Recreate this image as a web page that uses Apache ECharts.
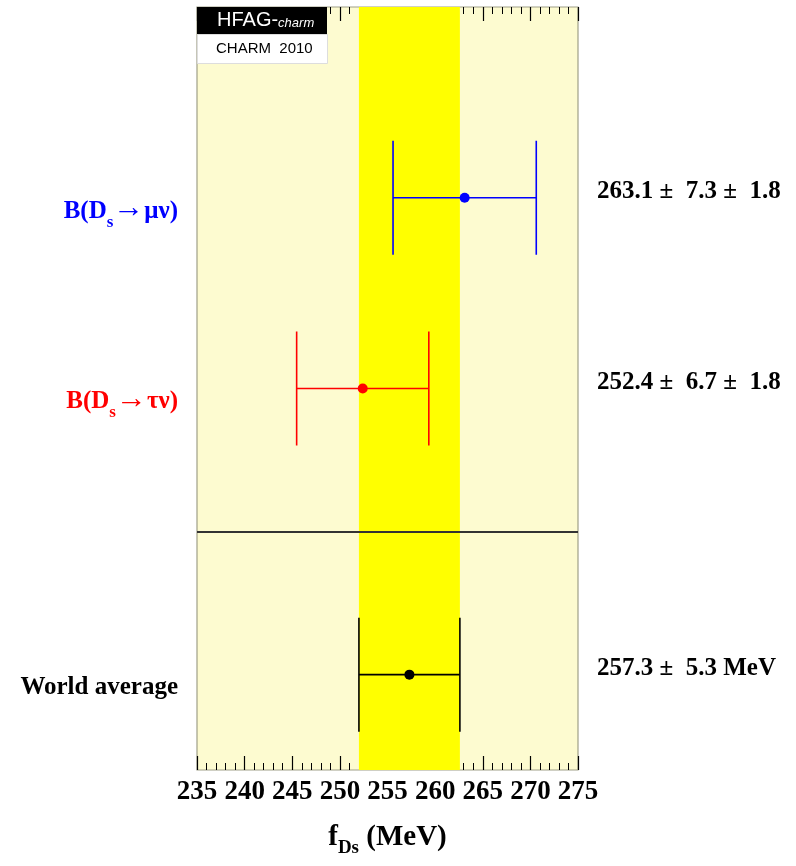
<!DOCTYPE html>
<html><head><meta charset="utf-8">
<script src="https://cdn.jsdelivr.net/npm/echarts@6/dist/echarts.min.js"></script>
<style>html,body{margin:0;padding:0;background:#fff}#c{width:796px;height:866px}</style>
</head><body><div id="c"></div>
<script>
// ---- data ----
const measNames = ['mu', 'tau', 'avg'];
const measLabelMain = ['B(D', 'B(D', 'World average'];
const measLabelSub = ['s', 's', ''];
const measLabelArrow = ['\u2192', '\u2192', ''];
const measLabelTail = ['\u03bc\u03bd)', '\u03c4\u03bd)', ''];
const measCenter = [263.1, 252.4, 257.3];
const measStat = [7.3, 6.7, 5.3];
const measSyst = [1.8, 1.8, 0];
const measRow = [3, 2, 0.5];
const measText = ['263.1 \u00b1  7.3 \u00b1  1.8', '252.4 \u00b1  6.7 \u00b1  1.8', '257.3 \u00b1  5.3 MeV'];
const measColor = ['#0000ff', '#ff0000', '#000000'];
const separatorRow = 1.25;
const xMin = 235, xMax = 275, xStep = 5;

const totErr = measStat.map((s, i) => Math.sqrt(s * s + measSyst[i] * measSyst[i]));
const avgIdx = 2;
const bandLo = measCenter[avgIdx] - measStat[avgIdx];
const bandHi = measCenter[avgIdx] + measStat[avgIdx];

const serif = 'Liberation Serif';
const chart = echarts.init(document.getElementById('c'));

const rows = measCenter.map((c, i) => [c, measRow[i], c - totErr[i], c + totErr[i], i]);

const axisCommon = {
  type: 'value', min: xMin, max: xMax, interval: xStep,
  axisLine: { show: false },
  splitLine: { show: false },
  minorTick: { show: true, splitNumber: 5, length: 7, lineStyle: { color: '#000', width: 1 } },
  axisTick: { show: true, inside: true, length: 14, lineStyle: { color: '#000', width: 1.2 } }
};

chart.setOption({
  animation: false,
  grid: { left: 197, right: 218, top: 7, bottom: 96, show: true,
          backgroundColor: '#fdfbd0', borderColor: '#a0a088', borderWidth: 1.2 },
  xAxis: [
    Object.assign({}, axisCommon, {
      position: 'bottom',
      axisLabel: { show: true, margin: 9, fontFamily: serif, fontWeight: 'bold', fontSize: 27, color: '#000' },
      name: '{f|f}{s|Ds}{f| (MeV)}', nameLocation: 'middle', nameGap: 53,
      nameTextStyle: { rich: {
        f: { fontFamily: serif, fontWeight: 'bold', fontSize: 29, color: '#000', verticalAlign: 'top', lineHeight: 34 },
        s: { fontFamily: serif, fontWeight: 'bold', fontSize: 19, color: '#000', verticalAlign: 'top', lineHeight: 34, padding: [16, 0, 0, 0] }
      } }
    }),
    Object.assign({}, axisCommon, { position: 'top', axisLabel: { show: false } })
  ],
  yAxis: { type: 'value', min: 0, max: 4, show: false },
  series: [
    {
      type: 'line', data: [], silent: true,
      markArea: { silent: true, itemStyle: { color: '#ffff00', opacity: 1 },
        data: [[{ xAxis: bandLo }, { xAxis: bandHi }]] },
      markLine: { silent: true, symbol: 'none', label: { show: false },
        lineStyle: { color: '#333', width: 1.8, type: 'solid' },
        data: [{ yAxis: separatorRow }] }
    },
    {
      type: 'custom', data: rows, silent: true, clip: false,
      renderItem: function (params, api) {
        const c = api.value(0), r = api.value(1), lo = api.value(2), hi = api.value(3), i = api.value(4);
        const pC = api.coord([c, r]);
        const pL = api.coord([lo, r]);
        const pH = api.coord([hi, r]);
        const pLeft = api.coord([xMin, r]);
        const pRight = api.coord([xMax, r]);
        const col = measColor[i];
        const cap = 57;
        const ls = { stroke: col, lineWidth: 1.6 };
        let lbl = '{m|' + measLabelMain[i] + '}';
        if (measLabelSub[i]) lbl += '{s|' + measLabelSub[i] + '}';
        if (measLabelArrow[i]) lbl += '{a|' + measLabelArrow[i] + '}';
        if (measLabelTail[i]) lbl += '{m|' + measLabelTail[i] + '}';
        const hasSub = !!measLabelSub[i];
        const children = [
          { type: 'line', shape: { x1: pL[0], y1: pC[1], x2: pH[0], y2: pC[1] }, style: ls },
          { type: 'line', shape: { x1: pL[0], y1: pC[1] - cap, x2: pL[0], y2: pC[1] + cap }, style: ls },
          { type: 'line', shape: { x1: pH[0], y1: pC[1] - cap, x2: pH[0], y2: pC[1] + cap }, style: ls },
          { type: 'circle', shape: { cx: pC[0], cy: pC[1], r: 5 }, style: { fill: col } },
          { type: 'text', x: pLeft[0] - 19, y: pC[1] + (hasSub ? 11 : 15),
            style: { text: lbl, align: 'right', verticalAlign: 'middle',
              rich: {
                m: { fontFamily: serif, fontWeight: 'bold', fontSize: 25, fill: col, verticalAlign: 'top', lineHeight: 30, padding: [hasSub ? 5 : 0, 0, 0, 0] },
                a: { fontFamily: serif, fontSize: 31, fill: col, verticalAlign: 'top', lineHeight: 30 },
                s: { fontFamily: serif, fontWeight: 'bold', fontSize: 17, fill: col, verticalAlign: 'top', lineHeight: 30, padding: [20, 0, 0, 0] }
              } } },
          { type: 'text', x: pRight[0] + 19, y: pC[1] - 6,
            style: { text: measText[i], align: 'left', verticalAlign: 'middle',
              fontFamily: serif, fontWeight: 'bold', fontSize: 25, fill: '#000' } }
        ];
        return { type: 'group', children: children };
      }
    }
  ],
  graphic: [
    { type: 'rect', left: 197, top: 7, shape: { width: 130, height: 27 }, style: { fill: '#000' }, z: 100 },
    { type: 'rect', left: 197, top: 34, shape: { width: 130, height: 29 }, style: { fill: '#fff', stroke: '#ddd', lineWidth: 1 }, z: 100 },
    { type: 'text', left: 217, top: 10, z: 101,
      style: { text: '{a|HFAG-}{b|charm}', rich: {
        a: { fontFamily: 'Liberation Sans', fontSize: 20, fill: '#fff', verticalAlign: 'bottom', lineHeight: 23 },
        b: { fontFamily: 'Liberation Sans', fontSize: 13, fontStyle: 'italic', fill: '#fff', verticalAlign: 'bottom', lineHeight: 23 } } } },
    { type: 'text', left: 216, top: 41, z: 101,
      style: { text: 'CHARM  2010', fontFamily: 'Liberation Sans', fontSize: 15, fill: '#000' } }
  ]
});
</script></body></html>
